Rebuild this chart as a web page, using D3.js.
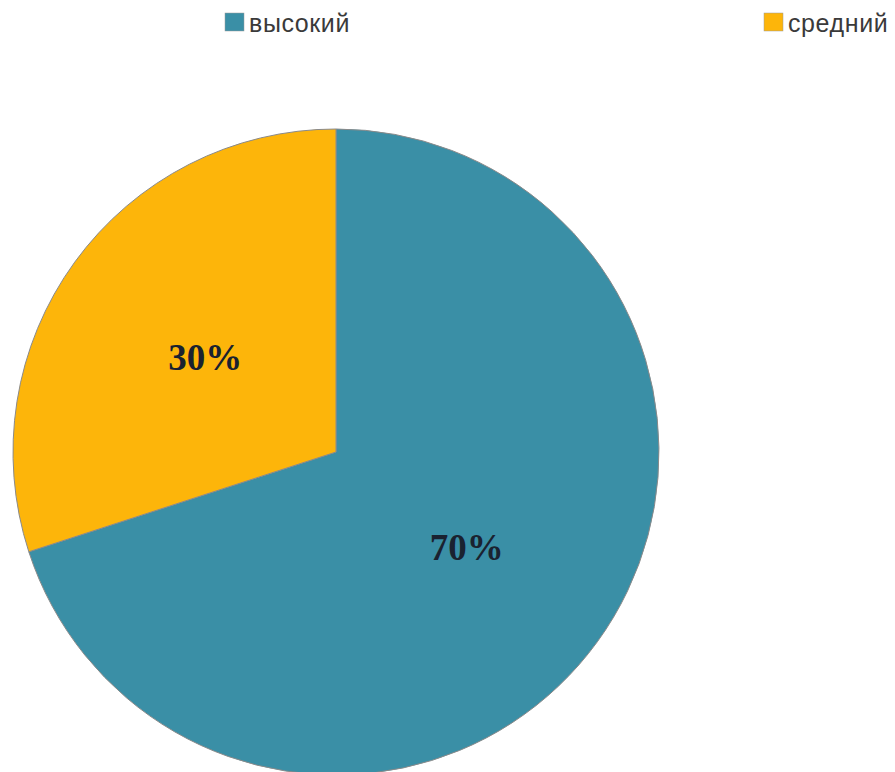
<!DOCTYPE html>
<html>
<head>
<meta charset="utf-8">
<script src="https://cdn.jsdelivr.net/npm/d3@7"></script>
<style>
  body { margin: 0; background: #fff; }
</style>
</head>
<body>
<div id="chart"></div>
<script>
var svgWidth = 895;
var svgHeight = 772;

// data
var categories = ["высокий", "средний"];
var values = [70, 30];
var labels = ["70%", "30%"];
var colors = ["#3A8FA6", "#FDB50A"];

var svg = d3.select("#chart")
  .append("svg")
  .attr("width", svgWidth)
  .attr("height", svgHeight);

var radius = 323;
var cx = 336, cy = 452;

var pie = d3.pie().sort(null).value(d => d.value);
var arc = d3.arc().innerRadius(0).outerRadius(radius);

var data = categories.map((c, i) => ({ name: c, value: values[i], label: labels[i], color: colors[i] }));

var pieGroup = svg.append("g")
  .attr("transform", `translate(${cx}, ${cy})`);

var slices = pieGroup.selectAll("g.slice")
  .data(pie(data))
  .enter()
  .append("g")
  .attr("class", "slice");

slices.append("path")
  .attr("d", arc)
  .attr("fill", d => d.data.color)
  .attr("stroke", "#8a8a8a")
  .attr("stroke-width", 1);

slices.append("text")
  .attr("transform", d => `translate(${arc.centroid(d)})`)
  .attr("text-anchor", "middle")
  .attr("dy", "0.35em")
  .style("font-family", "'Liberation Serif', 'Times New Roman', serif")
  .style("font-weight", "bold")
  .style("font-size", "37px")
  .style("fill", "#1a2230")
  .text(d => d.data.label);

// legend
var legendX = [225, 764];
var legend = svg.selectAll("g.legend")
  .data(data)
  .enter()
  .append("g")
  .attr("class", "legend")
  .attr("transform", (d, i) => `translate(${legendX[i]}, 13)`);

legend.append("rect")
  .attr("width", 19)
  .attr("height", 18)
  .attr("fill", d => d.color)
  .attr("stroke", "#9a9a9a")
  .attr("stroke-width", 0.5);

legend.append("text")
  .attr("x", 24)
  .attr("y", 19)
  .style("font-family", "'Liberation Sans', Arial, sans-serif")
  .style("font-size", "25px")
  .style("letter-spacing", "0.6px")
  .style("fill", "#3a3a3a")
  .text(d => d.name);
</script>
</body>
</html>
